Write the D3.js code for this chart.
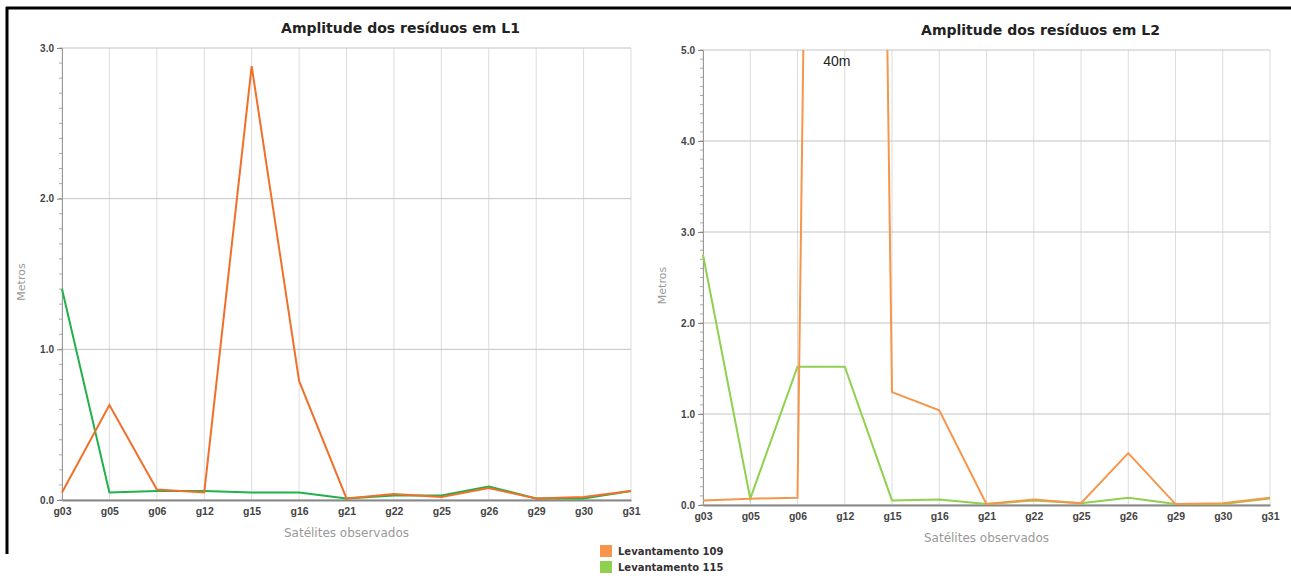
<!DOCTYPE html>
<html>
<head>
<meta charset="utf-8">
<script src="https://cdn.jsdelivr.net/npm/d3@7"></script>
<style>
  body { margin: 0; background: #fff; }
  svg { display: block; font-family: "DejaVu Sans", sans-serif; }
</style>
</head>
<body>
<svg id="chart" width="1291" height="576"></svg>
<script>
const satellites = ["g03", "g05", "g06", "g12", "g15", "g16", "g21", "g22", "g25", "g26", "g29", "g30", "g31"];

// L1 residual amplitudes (m)
const l1Lev109 = [0.05, 0.63, 0.07, 0.05, 2.88, 0.79, 0.01, 0.04, 0.02, 0.08, 0.01, 0.02, 0.06];
const l1Lev115 = [1.40, 0.05, 0.06, 0.06, 0.05, 0.05, 0.01, 0.03, 0.03, 0.09, 0.01, 0.01, 0.06];

// L2 residual amplitudes (m) - g12 of 109 goes up to 40m (clipped)
const l2Lev109 = [0.05, 0.07, 0.08, 40, 1.24, 1.04, 0.01, 0.06, 0.02, 0.57, 0.01, 0.02, 0.08];
const l2Lev115 = [2.75, 0.07, 1.52, 1.52, 0.05, 0.06, 0.01, 0.05, 0.02, 0.08, 0.01, 0.01, 0.07];

const legendLabels = ["Levantamento 109", "Levantamento 115"];
const legendColors = ["#f7964a", "#8fd14f"];

const svg = d3.select("#chart");

// outer frame (top and left black borders)
svg.append("line").attr("x1", 6).attr("x2", 1291).attr("y1", 8).attr("y2", 8)
  .attr("stroke", "#000").attr("stroke-width", 3);
svg.append("line").attr("x1", 7).attr("x2", 7).attr("y1", 7).attr("y2", 554)
  .attr("stroke", "#000").attr("stroke-width", 3);

// draws one panel
const drawPanel = (cfg) => {
  const g = svg.append("g");
  const x = d3.scalePoint().domain(satellites).range([cfg.left, cfg.right]);
  const y = d3.scaleLinear().domain([0, cfg.yMax]).range([cfg.bottom, cfg.top]);

  const clipId = "clip-" + cfg.id;
  g.append("clipPath").attr("id", clipId)
    .append("rect")
    .attr("x", cfg.left - 2).attr("y", cfg.top)
    .attr("width", cfg.right - cfg.left + 4).attr("height", cfg.bottom - cfg.top + 2);

  // vertical grid lines
  g.selectAll(".vgrid").data(satellites).join("line")
    .attr("x1", (d) => x(d)).attr("x2", (d) => x(d))
    .attr("y1", cfg.top).attr("y2", cfg.bottom)
    .attr("stroke", "#dcdcdc").attr("stroke-width", 1);

  // horizontal grid at major ticks
  const majors = d3.range(0, cfg.yMax + 0.001, 1);
  g.selectAll(".hgrid").data(majors).join("line")
    .attr("x1", cfg.left).attr("x2", cfg.right)
    .attr("y1", (d) => y(d)).attr("y2", (d) => y(d))
    .attr("stroke", "#c4c4c4").attr("stroke-width", 1);

  // y axis with minor ticks
  const minors = d3.range(0, cfg.yMax + 0.001, 0.1);
  g.selectAll(".minor").data(minors).join("line")
    .attr("x1", cfg.left - 3).attr("x2", cfg.left)
    .attr("y1", (d) => y(d)).attr("y2", (d) => y(d))
    .attr("stroke", "#aaa");
  const yAxis = g.append("g")
    .attr("transform", `translate(${cfg.left},0)`)
    .call(d3.axisLeft(y).tickValues(majors).tickFormat(d3.format(".1f")).tickSize(5).tickPadding(3));
  yAxis.select(".domain").attr("stroke", "#999");
  yAxis.selectAll(".tick line").attr("stroke", "#888");
  yAxis.selectAll("text").attr("fill", "#444").style("font-size", "10px").style("font-weight", "bold");

  // x axis
  const xAxis = g.append("g")
    .attr("transform", `translate(0,${cfg.bottom})`)
    .call(d3.axisBottom(x).tickSize(0).tickPadding(8));
  xAxis.select(".domain").attr("stroke", "#888").attr("stroke-width", 2);
  xAxis.selectAll("text").attr("fill", "#444").style("font-size", "10.5px").style("font-weight", "bold");

  // series lines
  const line = d3.line().x((d, i) => x(satellites[i])).y((d) => y(d));
  cfg.series.forEach((s) => {
    g.append("path")
      .datum(s.values)
      .attr("clip-path", `url(#${clipId})`)
      .attr("fill", "none")
      .attr("stroke", s.color)
      .attr("stroke-width", 2)
      .attr("stroke-linejoin", "miter")
      .attr("d", line);
  });

  // title
  g.append("text")
    .attr("x", (cfg.left + cfg.right) / 2 + 54).attr("y", cfg.titleY)
    .attr("text-anchor", "middle")
    .style("font-size", "14px").style("font-weight", "bold").attr("fill", "#222")
    .text(cfg.title);

  // axis titles
  g.append("text")
    .attr("x", (cfg.left + cfg.right) / 2).attr("y", cfg.bottom + 37)
    .attr("text-anchor", "middle")
    .style("font-size", "12px").attr("fill", "#999")
    .text("Satélites observados");
  g.append("text")
    .attr("transform", `translate(${cfg.left - 37},${(cfg.top + cfg.bottom) / 2 + 8}) rotate(-90)`)
    .attr("text-anchor", "middle")
    .style("font-size", "11px").attr("fill", "#999")
    .text("Metros");

  return { x, y, g };
};

drawPanel({
  id: "l1", title: "Amplitude dos resíduos em L1",
  left: 62, right: 631, top: 48, bottom: 500, yMax: 3, titleY: 33,
  series: [
    { values: l1Lev115, color: "#22b04a" },
    { values: l1Lev109, color: "#f0702a" },
  ],
});

const p2 = drawPanel({
  id: "l2", title: "Amplitude dos resíduos em L2",
  left: 703, right: 1270, top: 50, bottom: 505, yMax: 5, titleY: 35,
  series: [
    { values: l2Lev115, color: "#8fd14f" },
    { values: l2Lev109, color: "#f7964a" },
  ],
});

// annotation for the clipped 40m value
p2.g.append("text")
  .attr("x", p2.x("g12") - 8).attr("y", 66)
  .attr("text-anchor", "middle")
  .style("font-family", "Liberation Sans, Arial, sans-serif")
  .style("font-size", "14px").attr("fill", "#222")
  .text(d3.max(l2Lev109) + "m");

// legend
const legend = svg.append("g").attr("transform", "translate(600,545)");
legendLabels.forEach((label, i) => {
  const row = legend.append("g").attr("transform", `translate(0,${i * 16})`);
  row.append("rect").attr("width", 12).attr("height", 12).attr("fill", legendColors[i]);
  row.append("text").attr("x", 18).attr("y", 10)
    .style("font-size", "10px").style("font-weight", "bold").attr("fill", "#333")
    .text(label);
});
</script>
</body>
</html>
